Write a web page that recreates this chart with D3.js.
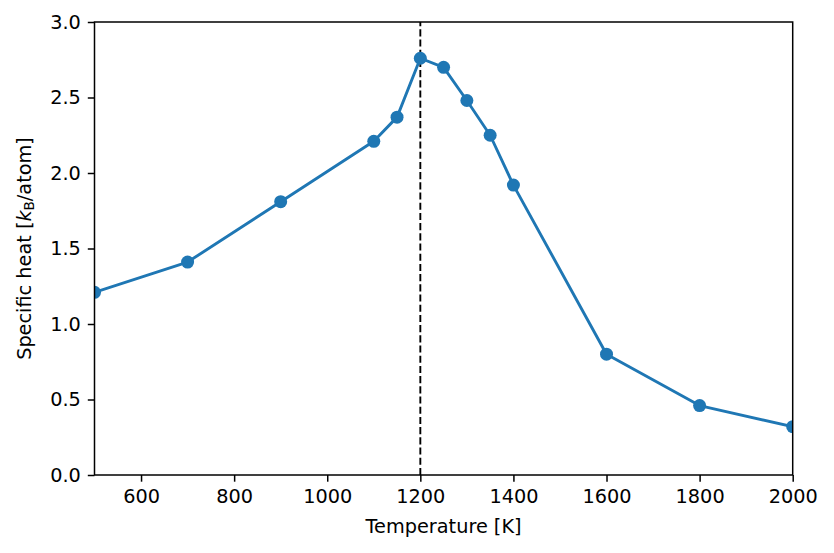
<!DOCTYPE html>
<html>
<head>
<meta charset="utf-8">
<script src="https://cdn.jsdelivr.net/npm/d3@7"></script>
<style>
  html, body { margin: 0; padding: 0; background: #fff; }
  svg { display: block; font-family: "DejaVu Sans", sans-serif; }
</style>
</head>
<body>
<svg id="chart" width="834" height="553"></svg>
<script>
const temperatures = [500, 700, 900, 1100, 1150, 1200, 1250, 1300, 1350, 1400, 1600, 1800, 2000];
const specificHeat = [1.21, 1.41, 1.81, 2.21, 2.37, 2.76, 2.70, 2.48, 2.25, 1.92, 0.80, 0.46, 0.32];
const xTicks = [600, 800, 1000, 1200, 1400, 1600, 1800, 2000];
const yTicks = [0.0, 0.5, 1.0, 1.5, 2.0, 2.5, 3.0];
const transitionT = [1200];

const svg = d3.select("#chart");
const margin = { left: 94.5, right: 834 - 792.7, top: 22, bottom: 553 - 475 };
const W = 834, H = 553;

const x = d3.scaleLinear().domain([500, 2000]).range([margin.left, W - margin.right]);
const y = d3.scaleLinear().domain([0, 3]).range([H - margin.bottom, margin.top]);

const fs = 19.3;
const color = "#1f77b4";

svg.append("defs").append("clipPath").attr("id", "plotclip")
  .append("rect")
  .attr("x", x(500)).attr("y", y(3))
  .attr("width", x(2000) - x(500)).attr("height", y(0) - y(3));

const plot = svg.append("g").attr("clip-path", "url(#plotclip)");

// dashed vertical line
plot.selectAll("line.vline").data(transitionT).enter().append("line")
  .attr("class", "vline")
  .attr("x1", d => x(d)).attr("x2", d => x(d))
  .attr("y1", y(0)).attr("y2", y(3))
  .attr("stroke", "#000").attr("stroke-width", 1.9)
  .attr("stroke-dasharray", "7.1,3.1");

// data line
const pts = temperatures.map((t, i) => [t, specificHeat[i]]);
plot.append("path")
  .datum(pts)
  .attr("fill", "none")
  .attr("stroke", color)
  .attr("stroke-width", 2.9)
  .attr("stroke-linejoin", "round")
  .attr("stroke-linecap", "square")
  .attr("d", d3.line().x(d => x(d[0])).y(d => y(d[1])));

plot.append("g").selectAll("circle").data(pts).enter().append("circle")
  .attr("cx", d => x(d[0])).attr("cy", d => y(d[1]))
  .attr("r", 6.5).attr("fill", color);

// axes
const xAxis = d3.axisBottom(x).tickValues(xTicks).tickFormat(d3.format("d")).tickSize(6.7).tickPadding(8);
const yAxis = d3.axisLeft(y).tickValues(yTicks).tickFormat(d3.format(".1f")).tickSize(6.7).tickPadding(7);

const gx = svg.append("g").attr("transform", `translate(0,${y(0)})`).call(xAxis);
const gy = svg.append("g").attr("transform", `translate(${x(500)},0)`).call(yAxis);
[gx, gy].forEach(g => {
  g.select(".domain").remove();
  g.selectAll(".tick line").attr("stroke", "#000").attr("stroke-width", 1.5);
  g.selectAll(".tick text").attr("fill", "#000").style("font-size", fs + "px").style("font-family", "DejaVu Sans");
});

// frame
svg.append("rect")
  .attr("x", x(500)).attr("y", y(3))
  .attr("width", x(2000) - x(500)).attr("height", y(0) - y(3))
  .attr("fill", "none").attr("stroke", "#000").attr("stroke-width", 1.5);

// labels
svg.append("text")
  .attr("x", (x(500) + x(2000)) / 2).attr("y", 533)
  .attr("text-anchor", "middle").style("font-size", fs + "px")
  .text("Temperature [K]");

const yl = svg.append("text")
  .attr("transform", `translate(31,${(y(0) + y(3)) / 2}) rotate(-90)`)
  .attr("text-anchor", "middle").style("font-size", fs + "px");
yl.append("tspan").text("Specific heat [");
yl.append("tspan").style("font-style", "italic").text("k");
yl.append("tspan").attr("dy", 3).style("font-size", (fs * 0.7) + "px").text("B");
yl.append("tspan").attr("dy", -3).text("/atom]");
</script>
</body>
</html>
